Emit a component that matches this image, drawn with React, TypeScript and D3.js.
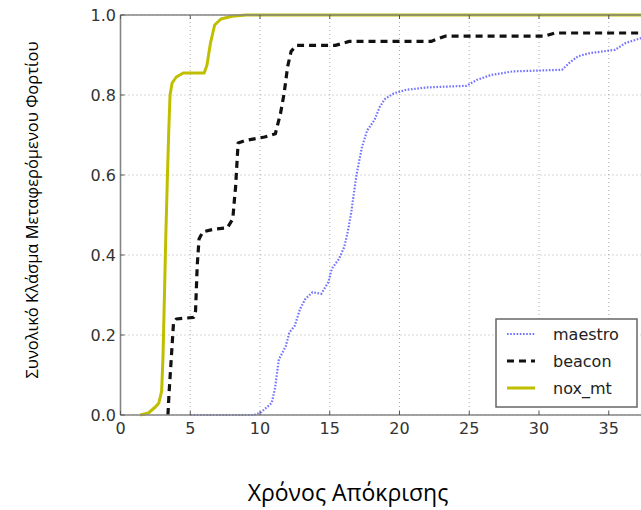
import React from "react";
import * as d3 from "d3";

const xTicks = [0, 5, 10, 15, 20, 25, 30, 35];
const yTicks = [0, 0.2, 0.4, 0.6, 0.8, 1.0];

const noxX = [1.4, 2.0, 2.5, 2.75, 2.95, 3.05, 3.15, 3.25, 3.35, 3.45, 3.55, 3.7, 4.0, 4.5, 6.0, 6.2, 6.45, 6.75, 7.2, 8.0, 9.0, 40];
const noxY = [0, 0.005, 0.02, 0.03, 0.06, 0.15, 0.3, 0.45, 0.58, 0.7, 0.8, 0.83, 0.845, 0.855, 0.855, 0.875, 0.93, 0.975, 0.99, 0.997, 1.0, 1.0];

const beaconX = [3.4, 3.48, 3.65, 3.8, 4.0, 5.25, 5.38, 5.5, 5.63, 5.9, 6.78, 7.66, 8.05, 8.17, 8.25, 8.43, 8.93, 10.33, 11.1, 11.47, 11.73, 11.98, 12.23, 12.61, 15.4, 16.4, 22.26, 23.27, 30.38, 31.14, 40];
const beaconY = [0, 0.055, 0.147, 0.23, 0.24, 0.244, 0.26, 0.374, 0.44, 0.458, 0.465, 0.468, 0.49, 0.54, 0.57, 0.68, 0.686, 0.695, 0.703, 0.754, 0.804, 0.871, 0.909, 0.924, 0.924, 0.934, 0.934, 0.947, 0.947, 0.955, 0.955];

const maestroX = [5.0, 9.57, 10.08, 10.84, 11.09, 11.35, 11.85, 12.1, 12.49, 12.87, 13.25, 13.76, 14.39, 14.9, 15.15, 15.66, 16.04, 16.29, 16.55, 16.68, 16.93, 17.31, 17.69, 18.2, 18.58, 18.96, 19.59, 20.48, 22.0, 24.8, 25.56, 26.57, 28.1, 31.65, 32.16, 32.8, 33.68, 35.46, 36.2, 37.4, 38.5];
const maestroY = [0, 0, 0.007, 0.03, 0.07, 0.139, 0.172, 0.206, 0.223, 0.265, 0.29, 0.307, 0.303, 0.332, 0.366, 0.39, 0.42, 0.458, 0.508, 0.542, 0.603, 0.67, 0.712, 0.737, 0.77, 0.79, 0.804, 0.813, 0.819, 0.823, 0.838, 0.85, 0.859, 0.863, 0.88, 0.897, 0.905, 0.913, 0.93, 0.943, 0.96];

const seriesNames = ["maestro", "beacon", "nox_mt"];

export default function App() {
  const W = 641, H = 510;
  const x = d3.scaleLinear().domain([0, 40]).range([120.5, 120.5 + 40 * 13.95]);
  const y = d3.scaleLinear().domain([0, 1]).range([415, 15]);
  const line = d3.line<[number, number]>().x((d) => x(d[0])).y((d) => y(d[1]));
  const zip = (a: number[], b: number[]) => a.map((v, i) => [v, b[i]] as [number, number]);

  const styles = [
    { stroke: "#5a5aff", width: 2.2, dash: "1.6,1.6", opacity: 0.85 },
    { stroke: "#111", width: 3.2, dash: "7,5", opacity: 1 },
    { stroke: "#bfbf00", width: 3, dash: "none", opacity: 1 },
  ];
  const data = [zip(maestroX, maestroY), zip(beaconX, beaconY), zip(noxX, noxY)];
  const x0 = x(0), x1 = W;

  return (
    <svg width={W} height={H} style={{ position: "absolute", left: 0, top: 0, background: "#fff" }}>
      {xTicks.map((t) => (
        <line key={"gx" + t} x1={x(t)} x2={x(t)} y1={y(0)} y2={y(1)} stroke="#aaa" strokeWidth={1} strokeDasharray="1,3" />
      ))}
      {yTicks.map((t) => (
        <line key={"gy" + t} x1={x0} x2={x1} y1={y(t)} y2={y(t)} stroke="#aaa" strokeWidth={1} strokeDasharray="1,3" />
      ))}
      <g fill="none" strokeLinejoin="round">
        {data.map((d, i) => (
          <path key={i} d={line(d) || ""} stroke={styles[i].stroke} strokeWidth={styles[i].width} strokeDasharray={styles[i].dash} opacity={styles[i].opacity} />
        ))}
      </g>
      <g stroke="#858585" strokeWidth={1.6} fill="none">
        <line x1={x0} x2={x1} y1={y(1)} y2={y(1)} />
        <line x1={x0} x2={x1} y1={y(0)} y2={y(0)} />
        <line x1={x0} x2={x0} y1={y(0)} y2={y(1)} />
      </g>
      {xTicks.map((t) => (
        <g key={"tx" + t}>
          <line x1={x(t)} x2={x(t)} y1={y(0)} y2={y(0) - 4} stroke="#555" />
          <line x1={x(t)} x2={x(t)} y1={y(1)} y2={y(1) + 4} stroke="#555" />
          <text x={x(t)} y={428} textAnchor="middle" dominantBaseline="central" fontFamily="DejaVu Sans" fontSize={16} fill="#333">{t}</text>
        </g>
      ))}
      {yTicks.map((t) => (
        <g key={"ty" + t}>
          <line x1={x0} x2={x0 + 4} y1={y(t)} y2={y(t)} stroke="#555" />
          <text x={116} y={y(t)} textAnchor="end" dominantBaseline="central" fontFamily="DejaVu Sans" fontSize={16} fill="#333">{t.toFixed(1)}</text>
        </g>
      ))}
      <rect x={496} y={319} width={141} height={88} fill="#fff" stroke="#666" strokeWidth={1.5} />
      {seriesNames.map((n, i) => {
        const ly = 334 + i * 27;
        return (
          <g key={n}>
            <line x1={507} x2={535} y1={ly} y2={ly} stroke={styles[i].stroke} strokeWidth={styles[i].width} strokeDasharray={styles[i].dash} opacity={styles[i].opacity} />
            <text x={553} y={ly} dominantBaseline="central" fontFamily="DejaVu Sans" fontSize={16} fill="#222">{n}</text>
          </g>
        );
      })}
      <text transform="translate(31,210) rotate(-90)" textAnchor="middle" dominantBaseline="central" fontFamily="Open Sans" fontSize={16.5} fill="#000">Συνολικό Κλάσμα Μεταφερόμενου Φορτίου</text>
      <text x={348} y={492} textAnchor="middle" dominantBaseline="central" fontFamily="Open Sans" fontSize={23} fill="#000">Χρόνος Απόκρισης</text>
    </svg>
  );
}
